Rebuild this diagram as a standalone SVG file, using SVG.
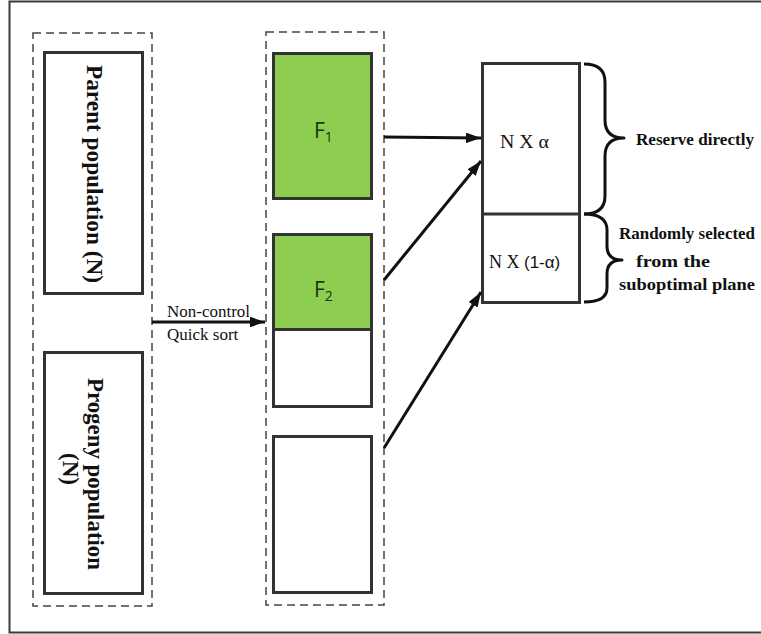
<svg xmlns="http://www.w3.org/2000/svg" width="761" height="634" viewBox="0 0 761 634">
<defs>
<style>
.frame{fill:none;stroke:#3a3a3a;stroke-width:2}
.dash{fill:none;stroke:#444;stroke-width:1.5;stroke-dasharray:8 5}
.box{fill:#fff;stroke:#333;stroke-width:3}
.green{fill:#8dcd4f;stroke:#333;stroke-width:3}
.conn{fill:none;stroke:#111;stroke-width:3}
.brace{fill:none;stroke:#111;stroke-width:3;stroke-linejoin:round}
.serif{font-family:"Liberation Serif","Times New Roman",serif;fill:#111}
.bold{font-weight:bold}
.f{font-family:"Open Sans","Noto Sans",sans-serif;font-size:21px;fill:#1d3410}
</style>
<marker id="ah" viewBox="0 0 10 7" refX="10" refY="3.5" markerWidth="5" markerHeight="3.5" orient="auto" markerUnits="strokeWidth">
<path d="M0,0 L10,3.5 L0,7 z" fill="#111"/>
</marker>
</defs>
<rect class="frame" x="9.5" y="1.5" width="760" height="631"/>

<g id="left-group">
<rect class="dash" x="33" y="33" width="119" height="573"/>
</g>
<g id="parent">
<rect class="box" x="44.5" y="52.5" width="98" height="241"/>
<text class="serif bold" font-size="23" transform="translate(87,174) rotate(90)" text-anchor="middle" textLength="218" lengthAdjust="spacingAndGlyphs">Parent population (N)</text>
</g>
<g id="progeny">
<rect class="box" x="44.5" y="352.5" width="98" height="241"/>
<text class="serif bold" font-size="23" transform="translate(88,474) rotate(90)" text-anchor="middle" textLength="192" lengthAdjust="spacingAndGlyphs">Progeny population</text>
<text class="serif bold" font-size="23" transform="translate(63,469) rotate(90)" text-anchor="middle">(N)</text>
</g>

<g id="mid-group">
<rect class="dash" x="266" y="32" width="118" height="573"/>
</g>
<g id="F1">
<rect class="green" x="273.5" y="53.5" width="98" height="145"/>
<text class="f" x="314" y="138">F<tspan font-size="14" dy="4">1</tspan></text>
</g>
<g id="F2">
<rect class="box" x="273.5" y="234.5" width="98" height="172"/>
<rect class="green" x="273.5" y="234.5" width="98" height="95"/>
<text class="f" x="314" y="297">F<tspan font-size="14" dy="4">2</tspan></text>
</g>
<g id="F3">
<rect class="box" x="273.5" y="436.5" width="98" height="156"/>
</g>

<g id="result">
<rect class="box" x="482.5" y="63.5" width="97" height="239"/>
<line x1="482.5" y1="214" x2="579.5" y2="214" stroke="#333" stroke-width="3"/>
<text class="serif" font-size="18" x="500" y="148" textLength="49" lengthAdjust="spacingAndGlyphs">N X α</text>
<text class="serif" font-size="18" x="489" y="268">N X <tspan font-family="'Liberation Sans',Arial,sans-serif" font-size="17">(1-α)</tspan></text>
</g>

<g id="brace-top">
<path class="brace" d="M584,64 Q605,64 605,82 L605,120 Q605,138 624,138 Q605,138 605,156 L605,196 Q605,214 584,214"/>
<text class="serif bold" font-size="17" x="636" y="145" textLength="118" lengthAdjust="spacingAndGlyphs">Reserve directly</text>
</g>
<g id="brace-bottom">
<path class="brace" d="M584,214 Q607,214 607,230 L607,246 Q607,260 622,260 Q607,260 607,274 L607,288 Q607,302 584,302"/>
<text class="serif bold" font-size="17" x="619" y="239" textLength="136" lengthAdjust="spacingAndGlyphs">Randomly selected</text>
<text class="serif bold" font-size="17" x="636" y="267" textLength="74" lengthAdjust="spacingAndGlyphs">from the</text>
<text class="serif bold" font-size="17" x="619" y="290" textLength="136" lengthAdjust="spacingAndGlyphs">suboptimal plane</text>
</g>

<g id="connectors">
<line class="conn" x1="152" y1="322" x2="265" y2="322" marker-end="url(#ah)"/>
<line class="conn" x1="384" y1="137" x2="481" y2="138" marker-end="url(#ah)"/>
<line class="conn" x1="384" y1="280" x2="481" y2="161" marker-end="url(#ah)"/>
<line class="conn" x1="384" y1="448" x2="481" y2="292" marker-end="url(#ah)"/>
</g>
<g id="sort-label">
<text class="serif" font-size="17" x="167" y="317">Non-control</text>
<text class="serif" font-size="17" x="167" y="340">Quick sort</text>
</g>
</svg>
